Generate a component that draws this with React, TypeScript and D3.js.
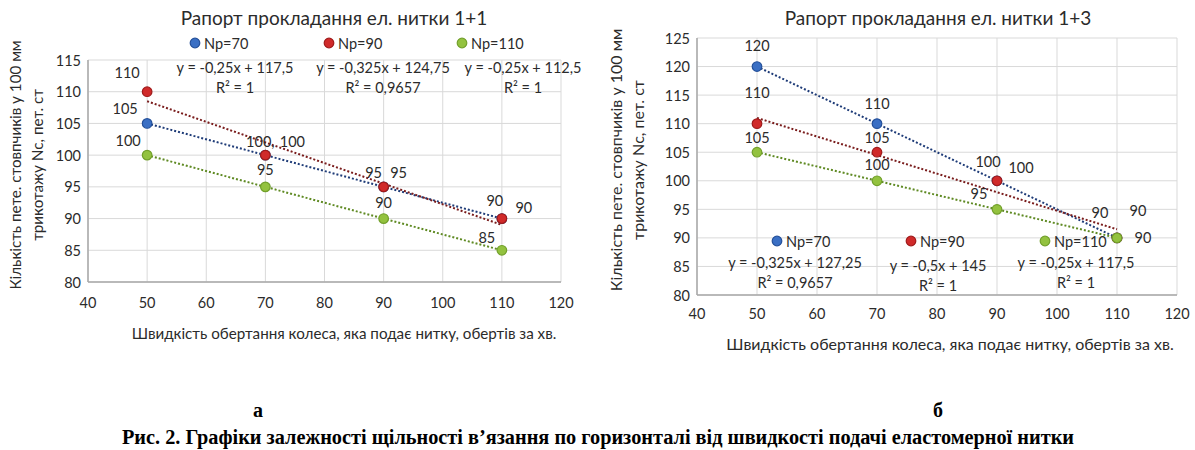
import React from "react";
import * as d3 from "d3";

// ---------- DATA ----------
const xValues = [50, 70, 90, 110];
const seriesNames = ["Np=70", "Np=90", "Np=110"];
const xTicks = [40, 50, 60, 70, 80, 90, 100, 110, 120];

const leftNp70 = [105, 100, 95, 90];
const leftNp90 = [110, 100, 95, 90];
const leftNp110 = [100, 95, 90, 85];
const leftYTicks = [80, 85, 90, 95, 100, 105, 110, 115];
const leftTitle = "Рапорт прокладання ел. нитки 1+1";
const leftEquations = [
  ["y = -0,25x + 117,5", "R² = 1"],
  ["y = -0,325x + 124,75", "R² = 0,9657"],
  ["y = -0,25x + 112,5", "R² = 1"],
];

const rightNp70 = [120, 110, 100, 90];
const rightNp90 = [110, 105, 100, 90];
const rightNp110 = [105, 100, 95, 90];
const rightYTicks = [80, 85, 90, 95, 100, 105, 110, 115, 120, 125];
const rightTitle = "Рапорт прокладання ел. нитки 1+3";
const rightEquations = [
  ["y = -0,325x + 127,25", "R² = 0,9657"],
  ["y = -0,5x + 145", "R² = 1"],
  ["y = -0,25x + 117,5", "R² = 1"],
];

const xAxisTitle = "Швидкість обертання колеса, яка подає нитку, обертів за хв.";
const yAxisTitle1 = "Кількість пете. стовпчиків у 100 мм";
const yAxisTitle2 = "трикотажу Nс, пет. ст";
const panelLetters = ["а", "б"];
const caption =
  "Рис. 2. Графіки залежності щільності в’язання по горизонталі від швидкості подачі еластомерної нитки";

// ---------- STYLE / LAYOUT ----------
const FONT = "Lato, 'Open Sans', sans-serif";
const SERIF = "'Liberation Serif', 'Times New Roman', serif";
const FS = 14.5;
const markerFill = ["#3a6fc4", "#d02a2a", "#93c23f"];
const markerStroke = ["#24509a", "#a01a1a", "#72a02b"];
const trendColor = ["#1f3c78", "#7a1d1d", "#5f8a23"];
const textColor = "#2b2b2b";

// label offsets [series][point] = [dx, dy]
const leftLabelOffsets = [
  [[-22, -15], [-5, -14], [-10, -14], [-7, -18]],
  [[-20, -19], [27, -14], [15, -14], [22, -11]],
  [[-19, -15], [0, -17], [0, -16], [-15, -13]],
];
const leftLabelSuffix = [["", ",", "", ""], ["", "", "", ""], ["", "", "", ""]];
const rightLabelOffsets = [
  [[0, -21], [0, -20], [-9, -19], [-17, -25]],
  [[0, -31], [0, -15], [24, -13], [21, -27]],
  [[0, -15], [0, -16], [-18, -16], [26, 0]],
];
const rightLabelSuffix = [["", "", "", ""], ["", "", "", ""], ["", "", "", ""]];

function linReg(xs: number[], ys: number[]) {
  const mx = d3.mean(xs)!;
  const my = d3.mean(ys)!;
  const sxy = d3.sum(xs.map((x, i) => (x - mx) * (ys[i] - my)));
  const sxx = d3.sum(xs.map((x) => (x - mx) * (x - mx)));
  const b = sxy / sxx;
  return { b, a: my - b * mx };
}

type PanelProps = {
  title: string;
  titleX: number;
  plot: { x0: number; x1: number; y0: number; y1: number };
  yTicks: number[];
  series: number[][];
  offsets: number[][][];
  suffix: string[][];
  legend: { xs: number[]; y: number };
  equations: string[][];
  eqPos: number[][];
  yTitleX: number[];
  yTitleCenter: number;
  xTickY: number;
  xTitleX: number;
  xTitleY: number;
  axisTitleFS: number;
};

function Panel(p: PanelProps) {
  const x = d3.scaleLinear().domain([xTicks[0], xTicks[xTicks.length - 1]]).range([p.plot.x0, p.plot.x1]);
  const y = d3
    .scaleLinear()
    .domain([p.yTicks[0], p.yTicks[p.yTicks.length - 1]])
    .range([p.plot.y1, p.plot.y0]);
  const T = (props: any) => (
    <text dominantBaseline="central" fontSize={FS} fill={textColor} fontFamily={FONT} {...props} />
  );
  return (
    <g>
      <T x={p.titleX} y={17} textAnchor="middle" fontSize={19}>
        {p.title}
      </T>
      {/* grid */}
      {p.yTicks.map((t) => (
        <line key={"gy" + t} x1={p.plot.x0} x2={p.plot.x1} y1={y(t)} y2={y(t)} stroke="#d9d9d9" strokeWidth={1} />
      ))}
      {xTicks.map((t) => (
        <line key={"gx" + t} x1={x(t)} x2={x(t)} y1={p.plot.y0} y2={p.plot.y1} stroke="#d9d9d9" strokeWidth={1} />
      ))}
      {/* axes */}
      <line x1={p.plot.x0} x2={p.plot.x0} y1={p.plot.y0} y2={p.plot.y1} stroke="#a8a8a8" strokeWidth={1.5} />
      <line x1={p.plot.x0} x2={p.plot.x1} y1={p.plot.y1} y2={p.plot.y1} stroke="#a8a8a8" strokeWidth={1.5} />
      {p.yTicks.map((t) => (
        <T key={"ty" + t} x={p.plot.x0 - 7} y={y(t)} textAnchor="end">
          {t}
        </T>
      ))}
      {xTicks.map((t) => (
        <T key={"tx" + t} x={x(t)} y={p.xTickY} textAnchor="middle">
          {t}
        </T>
      ))}
      {/* axis titles */}
      <T x={p.xTitleX} y={p.xTitleY} textAnchor="middle" fontSize={p.axisTitleFS}>
        {xAxisTitle}
      </T>
      <T transform={`translate(${p.yTitleX[0]},${p.yTitleCenter}) rotate(-90)`} textAnchor="middle" fontSize={p.axisTitleFS}>
        {yAxisTitle1}
      </T>
      <T transform={`translate(${p.yTitleX[1]},${p.yTitleCenter}) rotate(-90)`} textAnchor="middle" fontSize={p.axisTitleFS}>
        {yAxisTitle2}
      </T>
      {/* trendlines */}
      {p.series.map((s, i) => {
        const r = linReg(xValues, s);
        const xs = [xValues[0], xValues[xValues.length - 1]];
        const path = d3
          .line<number>()
          .x((d) => x(d))
          .y((d) => y(r.a + r.b * d))(xs);
        return (
          <path key={"tr" + i} d={path!} fill="none" stroke={trendColor[i]} strokeWidth={2} strokeDasharray="2,2" />
        );
      })}
      {/* markers */}
      {p.series.map((s, i) =>
        s.map((v, j) => (
          <circle key={`m${i}-${j}`} cx={x(xValues[j])} cy={y(v)} r={4.8} fill={markerFill[i]} stroke={markerStroke[i]} strokeWidth={1.2} />
        ))
      )}
      {/* labels */}
      {p.series.map((s, i) =>
        s.map((v, j) => (
          <T key={`l${i}-${j}`} x={x(xValues[j]) + p.offsets[i][j][0]} y={y(v) + p.offsets[i][j][1]} textAnchor="middle">
            {v + p.suffix[i][j]}
          </T>
        ))
      )}
      {/* legend */}
      {seriesNames.map((n, i) => (
        <g key={"lg" + i}>
          <circle cx={p.legend.xs[i]} cy={p.legend.y} r={4.8} fill={markerFill[i]} stroke={markerStroke[i]} strokeWidth={1.2} />
          <T x={p.legend.xs[i] + 9} y={p.legend.y}>
            {n}
          </T>
        </g>
      ))}
      {/* equations */}
      {p.equations.map((eq, i) => (
        <g key={"eq" + i}>
          <T x={p.eqPos[i][0]} y={p.eqPos[i][1]} textAnchor="middle">
            {eq[0]}
          </T>
          <T x={p.eqPos[i][0]} y={p.eqPos[i][1] + 20} textAnchor="middle">
            {eq[1]}
          </T>
        </g>
      ))}
    </g>
  );
}

export default function App() {
  return (
    <svg width={1195} height={450} style={{ position: "absolute", left: 0, top: 0, background: "#fff" }}>
      <rect width={1195} height={450} fill="#fff" />
      <Panel
        title={leftTitle}
        titleX={334}
        plot={{ x0: 88, x1: 561, y0: 60, y1: 282 }}
        yTicks={leftYTicks}
        series={[leftNp70, leftNp90, leftNp110]}
        offsets={leftLabelOffsets}
        suffix={leftLabelSuffix}
        legend={{ xs: [195, 329, 462], y: 43 }}
        equations={leftEquations}
        eqPos={[[235, 67], [383, 67], [523, 67]]}
        yTitleX={[15, 37]}
        yTitleCenter={165}
        xTickY={302}
        xTitleX={344}
        xTitleY={333}
        axisTitleFS={15.2}
      />
      <Panel
        title={rightTitle}
        titleX={938}
        plot={{ x0: 697, x1: 1177, y0: 38, y1: 295 }}
        yTicks={rightYTicks}
        series={[rightNp70, rightNp90, rightNp110]}
        offsets={rightLabelOffsets}
        suffix={rightLabelSuffix}
        legend={{ xs: [777, 911, 1045], y: 241 }}
        equations={rightEquations}
        eqPos={[[795, 262], [938, 265], [1076, 262]]}
        yTitleX={[615, 637]}
        yTitleCenter={160}
        xTickY={313}
        xTitleX={950}
        xTitleY={343}
        axisTitleFS={16}
      />
      <text x={258} y={410} textAnchor="middle" dominantBaseline="central" fontSize={20} fontWeight="bold" fontFamily={SERIF} fill="#000">
        {panelLetters[0]}
      </text>
      <text x={938} y={410} textAnchor="middle" dominantBaseline="central" fontSize={20} fontWeight="bold" fontFamily={SERIF} fill="#000">
        {panelLetters[1]}
      </text>
      <text x={598} y={437} textAnchor="middle" dominantBaseline="central" fontSize={20.3} fontWeight="bold" fontFamily={SERIF} fill="#000">
        {caption}
      </text>
    </svg>
  );
}
